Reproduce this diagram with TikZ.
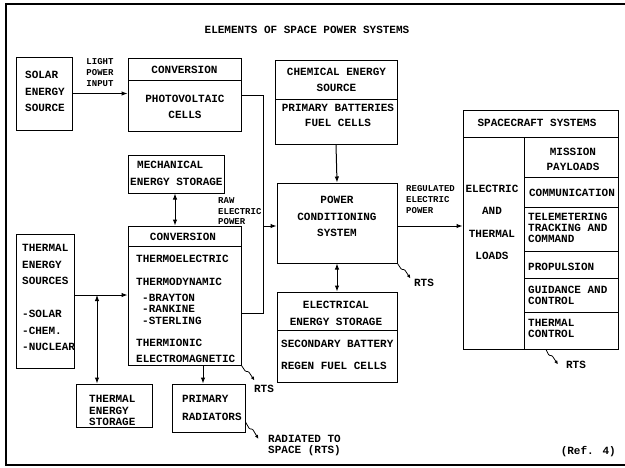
\documentclass[tikz,border=0pt]{standalone}
\usepackage{fontspec}
\setmainfont{Liberation Mono}
\usetikzlibrary{arrows.meta}
\begin{document}
\begin{tikzpicture}[x=1pt,y=-1pt,
  box/.style={draw, line width=1pt, inner sep=0pt},
  tx/.style={inner sep=0pt, font=\bfseries\fontsize{11}{#1}\selectfont},
  tx/.default=13,
  sm/.style={inner sep=0pt, font=\bfseries\fontsize{9}{#1}\selectfont},
  sm/.default=11,
  arr/.style={line width=1pt, -{Latex[length=6pt,width=4.5pt]}},
  darr/.style={line width=1pt, {Latex[length=6pt,width=4.5pt]}-{Latex[length=6pt,width=4.5pt]}},
  rts/.style={line width=0.8pt, rounded corners=1pt, -{Latex[length=4pt,width=3.5pt]}},
  wire/.style={line width=1pt}]
\useasboundingbox (0,0) rectangle (625,467);
% frame
\draw[line width=1.5pt] (625,4) -- (6,4) -- (6,465) -- (625,465);
\node[tx] (title) at (307,30) {ELEMENTS OF SPACE POWER SYSTEMS};

% boxes
\node[box, minimum width=56pt, minimum height=73pt] (solar) at (44,93.5) {};
\node[box, minimum width=113pt, minimum height=22pt] (pvhead) at (184.5,69) {};
\node[box, minimum width=113pt, minimum height=51pt] (pvbody) at (184.5,105.5) {};
\node[box, minimum width=122pt, minimum height=39pt] (chemhead) at (336,79.5) {};
\node[box, minimum width=122pt, minimum height=45pt] (chembody) at (336,121.5) {};
\node[box, minimum width=96pt, minimum height=38pt] (mech) at (176,174) {};
\node[box, minimum width=113pt, minimum height=20pt] (tchead) at (184.5,236) {};
\node[box, minimum width=113pt, minimum height=119pt] (tcbody) at (184.5,305.5) {};
\node[box, minimum width=58pt, minimum height=134pt] (tsrc) at (45,301) {};
\node[box, minimum width=76pt, minimum height=43pt] (tstore) at (114,405.5) {};
\node[box, minimum width=73pt, minimum height=48pt] (prad) at (208.5,408) {};
\node[box, minimum width=120pt, minimum height=80pt] (pcs) at (337,223) {};
\node[box, minimum width=120pt, minimum height=38pt] (eeshead) at (337,311) {};
\node[box, minimum width=120pt, minimum height=52pt] (eesbody) at (337,356) {};
\node[box, minimum width=155pt, minimum height=27pt] (schead) at (540.5,123.5) {};
\node[box, minimum width=61pt, minimum height=212pt] (loads) at (493.5,243) {};
\node[box, minimum width=94pt, minimum height=40pt] (mission) at (571,157) {};
\node[box, minimum width=94pt, minimum height=30pt] (comm) at (571,192) {};
\node[box, minimum width=94pt, minimum height=44pt] (telem) at (571,229) {};
\node[box, minimum width=94pt, minimum height=27pt] (prop) at (571,264.5) {};
\node[box, minimum width=94pt, minimum height=34pt] (guid) at (571,295) {};
\node[box, minimum width=94pt, minimum height=37pt] (thctl) at (571,330.5) {};

% texts
\node[tx=16.5, align=left, anchor=west] (tsolar) at (25,91.5) {SOLAR\\ENERGY\\SOURCE};
\node[sm=11, align=center] (tlight) at (100,73) {LIGHT\\POWER\\INPUT};
\node[tx] (tpvhead) at (184.5,70) {CONVERSION};
\node[tx=16, align=center] (tpvbody) at (185,107) {PHOTOVOLTAIC\\CELLS};
\node[tx=16, align=center] (tchemhead) at (336.5,80) {CHEMICAL ENERGY\\SOURCE};
\node[tx=15, align=center] (tchembody) at (338,115.5) {PRIMARY BATTERIES\\FUEL CELLS};
\node[tx=17, align=left, anchor=west] (tmech) at (130,173.5) {\hspace*{7pt}MECHANICAL\\ENERGY STORAGE};
\node[tx] (ttchead) at (183,237) {CONVERSION};
\node[tx=11.5, align=left, anchor=west] (ttcbody) at (136,309)
  {THERMOELECTRIC\\[11pt]THERMODYNAMIC\\[4.5pt]\hspace*{6pt}-BRAYTON\\\hspace*{6pt}-RANKINE\\\hspace*{6pt}-STERLING\\[10.5pt]THERMIONIC\\[4.5pt]ELECTROMAGNETIC};
\node[sm=10.5, align=left, anchor=west] (traw) at (218,211.5) {RAW\\ELECTRIC\\POWER};
\node[tx=16.5, align=left, anchor=west] (ttsrc) at (22,297.5) {THERMAL\\ENERGY\\SOURCES\\[16.5pt]-SOLAR\\-CHEM.\\-NUCLEAR};
\node[tx=11.5, align=left, anchor=west] (ttstore) at (89,410.5) {THERMAL\\ENERGY\\STORAGE};
\node[tx=18, align=left, anchor=west] (tprad) at (182,408) {PRIMARY\\RADIATORS};
\node[tx] (trts1) at (264,389) {RTS};
\node[tx=11, align=left, anchor=west] (trad) at (268,445.5) {RADIATED TO\\SPACE (RTS)};
\node[tx=16.5, align=center] (tpcs) at (337,216.5) {POWER\\CONDITIONING\\SYSTEM};
\node[tx] (trts2) at (424,283) {RTS};
\node[sm=11, align=left, anchor=west] (treg) at (406,200) {REGULATED\\ELECTRIC\\POWER};
\node[tx=17, align=center] (teeshead) at (336,313.5) {ELECTRICAL\\ENERGY STORAGE};
\node[tx=22, align=left, anchor=west] (teesbody) at (281,355) {SECONDARY BATTERY\\REGEN FUEL CELLS};
\node[tx] (tschead) at (537,123) {SPACECRAFT SYSTEMS};
\node[tx=22.3, align=center] (tloads) at (492,222.5) {ELECTRIC\\AND\\THERMAL\\LOADS};
\node[tx=15, align=center] (tmission) at (573,159.5) {MISSION\\PAYLOADS};
\node[tx] (tcomm) at (572,193) {COMMUNICATION};
\node[tx=11, align=left, anchor=west] (ttelem) at (528,228) {TELEMETERING\\TRACKING AND\\COMMAND};
\node[tx, anchor=west] (tprop) at (528,267) {PROPULSION};
\node[tx=11, align=left, anchor=west] (tguid) at (528,295.5) {GUIDANCE AND\\CONTROL};
\node[tx=11, align=left, anchor=west] (tthctl) at (528,328.5) {THERMAL\\CONTROL};
\node[tx] (trts3) at (576,365) {RTS};
\node[tx, anchor=east] (tref) at (616,452) {(Ref. 4)};

% junction coordinates
\coordinate (jtop) at (263,95);
\coordinate (jmid) at (263,226);
\coordinate (jbot) at (263,313);
\coordinate (tj) at (97,295);
\coordinate (rj) at (203,0);
\coordinate (mj) at (175,0);
\coordinate (regj) at (0,226);

% connectors
\draw[arr] (solar.east) -- (solar.east -| pvbody.west);
\draw[wire] (pvbody.east |- jtop) -- (jtop) -- (jbot) -- (tcbody.east |- jbot);
\draw[arr] (jmid) -- (jmid -| pcs.west);
\draw[darr] (mech.south -| mj) -- (tchead.north -| mj);
\draw[arr] (tj -| tsrc.east) -- (tj -| tcbody.west);
\draw[darr] (tj) -- (tj |- tstore.north);
\draw[arr] (tcbody.south -| rj) -- (prad.north -| rj);
\draw[arr] (chembody.south) -- (pcs.north);
\draw[darr] (pcs.south) -- (eeshead.north);
\draw[arr] (pcs.east |- regj) -- (loads.west |- regj);

% RTS squiggles
\draw[rts] (tcbody.south east) -- ++(4,6) -- ++(3,0) -- ++(6,9);
\draw[rts] (pcs.south east) -- ++(4,6) -- ++(3,0) -- ++(6,9);
\draw[rts] ([yshift=-14pt]prad.east) -- ++(4,7) -- ++(3,0) -- ++(6,10);
\draw[rts] ([xshift=-25pt]thctl.south) -- ++(3,6) -- ++(3,0) -- ++(6,9);
\end{tikzpicture}
\end{document}
